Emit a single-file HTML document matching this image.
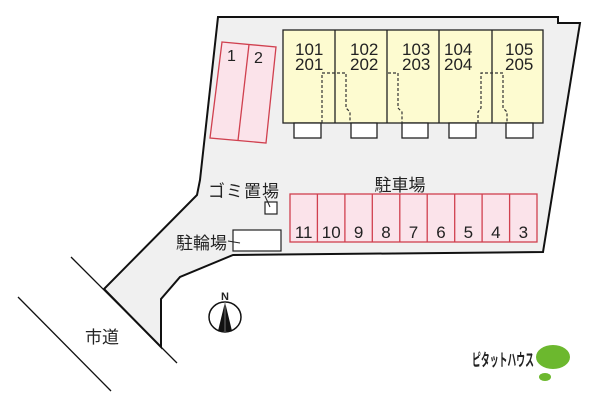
<!DOCTYPE html>
<html><head><meta charset="utf-8"><style>
html,body{margin:0;padding:0;background:#fff;width:600px;height:400px;overflow:hidden}
svg{display:block}
text{font-family:"Liberation Sans","Noto Sans CJK JP",sans-serif;fill:#222}
</style></head><body>
<svg width="600" height="400" viewBox="0 0 600 400" xmlns="http://www.w3.org/2000/svg">
<polygon points="218,17 558,17 558,23 580,23 543,252 233,255 180,277 161,299 161,347 104,289 197,195 200,180" fill="#f0f0f0" stroke="#111" stroke-width="2" stroke-linejoin="miter"/>
<line x1="71" y1="257" x2="177" y2="363" stroke="#111" stroke-width="1.3"/>
<line x1="18" y1="297" x2="111" y2="391" stroke="#111" stroke-width="1.3"/>
<polygon points="222,42 276,47 266,143 210,138" fill="#fbe3ea" stroke="#d0404f" stroke-width="1.3"/>
<line x1="249" y1="44.5" x2="238" y2="140.5" stroke="#d0404f" stroke-width="1.3"/>
<text x="227" y="61" font-size="16">1</text>
<text x="254" y="63" font-size="16">2</text>
<rect x="283" y="30" width="260" height="93" fill="#fdfbd0" stroke="#222" stroke-width="1.3"/>
<line x1="335" y1="30" x2="335" y2="123" stroke="#222" stroke-width="1.3"/>
<line x1="387" y1="30" x2="387" y2="123" stroke="#222" stroke-width="1.3"/>
<line x1="439" y1="30" x2="439" y2="123" stroke="#222" stroke-width="1.3"/>
<line x1="492" y1="30" x2="492" y2="123" stroke="#222" stroke-width="1.3"/>
<g fill="#fff" stroke="#222" stroke-width="1.3">
<rect x="294" y="123" width="27" height="15"/>
<rect x="351" y="123" width="26" height="15"/>
<rect x="402" y="123" width="26" height="15"/>
<rect x="449" y="123" width="27" height="15"/>
<rect x="506" y="123" width="27" height="15"/>
</g>
<g fill="none" stroke="#333" stroke-width="1.2" stroke-dasharray="3,2">
<path d="M322,123 V73 H346 V108 L350,112 V123"/>
<path d="M388,73 H398 V108 L402,112 V123"/>
<path d="M478,123 V112 L481,108 V73 H503 V108 L507,112 V123"/>
</g>
<g font-size="17">
<text x="295" y="55">101</text><text x="295" y="70">201</text>
<text x="350" y="55">102</text><text x="350" y="70">202</text>
<text x="402" y="55">103</text><text x="402" y="70">203</text>
<text x="444" y="55">104</text><text x="444" y="70">204</text>
<text x="505" y="55">105</text><text x="505" y="70">205</text>
</g>
<rect x="290" y="194" width="247" height="48" fill="#fbe3ea" stroke="#d0404f" stroke-width="1.3"/>
<g stroke="#d0404f" stroke-width="1.3">
<line x1="317.4" y1="194" x2="317.4" y2="242"/><line x1="344.9" y1="194" x2="344.9" y2="242"/>
<line x1="372.3" y1="194" x2="372.3" y2="242"/><line x1="399.8" y1="194" x2="399.8" y2="242"/>
<line x1="427.2" y1="194" x2="427.2" y2="242"/><line x1="454.7" y1="194" x2="454.7" y2="242"/>
<line x1="482.1" y1="194" x2="482.1" y2="242"/><line x1="509.6" y1="194" x2="509.6" y2="242"/>
</g>
<g font-size="17" text-anchor="middle">
<text x="303.7" y="238">11</text><text x="331.2" y="238">10</text><text x="358.6" y="238">9</text>
<text x="386" y="238">8</text><text x="413.5" y="238">7</text><text x="441" y="238">6</text>
<text x="468.4" y="238">5</text><text x="495.8" y="238">4</text><text x="523.3" y="238">3</text>
</g>
<text x="400" y="191" font-size="17" text-anchor="middle">駐車場</text>
<text x="208" y="197" font-size="17" letter-spacing="1">ゴミ置場</text>
<rect x="265" y="202" width="12" height="12" fill="#fff" stroke="#222" stroke-width="1.2"/>
<line x1="265" y1="196" x2="270" y2="207" stroke="#222" stroke-width="1"/>
<text x="176" y="249" font-size="17">駐輪場</text>
<rect x="233" y="230" width="48" height="21" fill="#fff" stroke="#222" stroke-width="1.2"/>
<line x1="228" y1="241" x2="240" y2="243" stroke="#222" stroke-width="1"/>
<ellipse cx="225" cy="317" rx="16" ry="15" fill="#fff" stroke="#111" stroke-width="1.5"/>
<polygon points="225,302 218,331 232,331" fill="#111"/>
<line x1="225" y1="302" x2="225" y2="331" stroke="#888" stroke-width="0.8"/>
<text x="225" y="300" font-size="11" text-anchor="middle" font-weight="bold">N</text>
<text x="85" y="343" font-size="17">市道</text>
<text x="472" y="366" font-size="17" font-weight="bold" textLength="62" lengthAdjust="spacingAndGlyphs">ピタットハウス</text>
<ellipse cx="553" cy="357" rx="17" ry="12" fill="#6cb82e"/>
<ellipse cx="545" cy="377" rx="6" ry="4" fill="#6cb82e"/>
</svg>
</body></html>
